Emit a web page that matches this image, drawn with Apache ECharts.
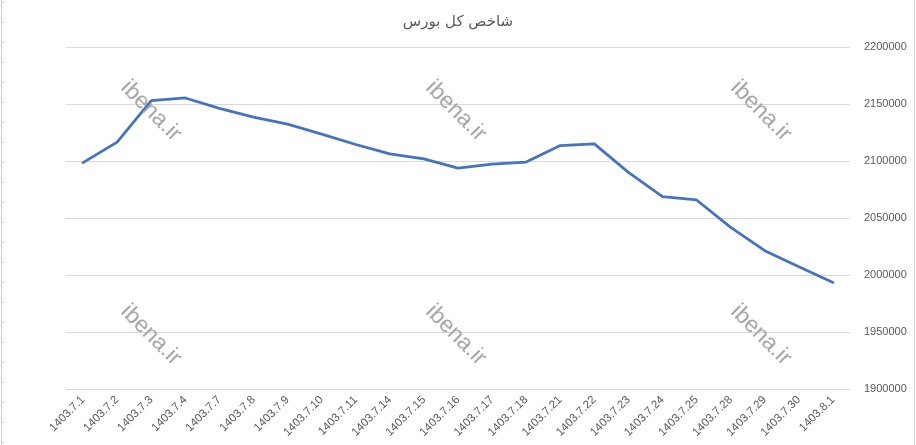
<!DOCTYPE html>
<html>
<head>
<meta charset="utf-8">
<script src="https://cdn.jsdelivr.net/npm/echarts@6/dist/echarts.min.js"></script>
<style>
html,body{margin:0;padding:0;background:#fff;}
#c{width:916px;height:445px;}
</style>
</head>
<body>
<div id="c"></div>
<script>
var titleText = 'شاخص کل بورس';
var categories = ['1403.7.1','1403.7.2','1403.7.3','1403.7.4','1403.7.7','1403.7.8','1403.7.9','1403.7.10','1403.7.11','1403.7.14','1403.7.15','1403.7.16','1403.7.17','1403.7.18','1403.7.21','1403.7.22','1403.7.23','1403.7.24','1403.7.25','1403.7.28','1403.7.29','1403.7.30','1403.8.1'];
var values = [2098600,2116600,2152900,2155300,2146200,2138500,2132300,2123600,2114500,2106200,2101800,2093800,2097300,2099100,2113500,2115000,2090000,2068700,2065800,2041800,2021300,2007300,1993500];
var yMin = 1900000, yMax = 2200000, yStep = 50000;
var watermark = 'ibena.ir';
var wmPositions = [[151,111],[456,111],[761,111],[151,335],[456,335],[761,335]];

var chart = echarts.init(document.getElementById('c'), null, {renderer:'canvas'});
var graphics = [];
wmPositions.forEach(function(p){
  graphics.push({
    type:'text', x:p[0], y:p[1], rotation:-Math.PI/4, z:100,
    style:{text:watermark, fill:'#a6a6a6', font:'23px "Liberation Sans", Arial, sans-serif', textAlign:'center', textVerticalAlign:'middle'}
  });
});
graphics.push({type:'line', shape:{x1:1.5,y1:0,x2:1.5,y2:445}, style:{stroke:'#d0d0d0', lineWidth:1}});
graphics.push({type:'line', shape:{x1:914.5,y1:0,x2:914.5,y2:445}, style:{stroke:'#d9d9d9', lineWidth:1}});
for (var ty = 2; ty < 445; ty += 20) {
  graphics.push({type:'line', shape:{x1:1.5,y1:ty+0.5,x2:4,y2:ty+0.5}, style:{stroke:'#d0d0d0', lineWidth:1}});
}

chart.setOption({
  animation:false,
  backgroundColor:'#ffffff',
  title:{
    text:titleText, left:'center', top:10,
    textStyle:{fontFamily:'"DejaVu Sans", sans-serif', fontSize:15, fontWeight:'normal', color:'#595959'}
  },
  grid:{left:66, right:66, top:47, bottom:56, containLabel:false},
  xAxis:{
    type:'category', data:categories, boundaryGap:true,
    axisLine:{show:true, lineStyle:{color:'#d9d9d9', width:1}},
    axisTick:{show:false},
    axisLabel:{rotate:45, interval:0, margin:9, color:'#595959', fontSize:11.5, fontFamily:'"Liberation Sans", Arial, sans-serif'}
  },
  yAxis:{
    type:'value', position:'right', min:yMin, max:yMax, interval:yStep,
    axisLine:{show:false}, axisTick:{show:false},
    splitLine:{lineStyle:{color:'#d9d9d9', width:1}},
    axisLabel:{margin:14, color:'#595959', fontSize:11, fontFamily:'"Liberation Sans", Arial, sans-serif',
      formatter:function(v){ return String(v); }}
  },
  series:[{
    type:'line', data:values, showSymbol:false, symbol:'none',
    lineStyle:{color:'#4472C4', width:2.75, join:'round', cap:'round'},
    z:5
  }],
  graphic:graphics
});
</script>
</body>
</html>
